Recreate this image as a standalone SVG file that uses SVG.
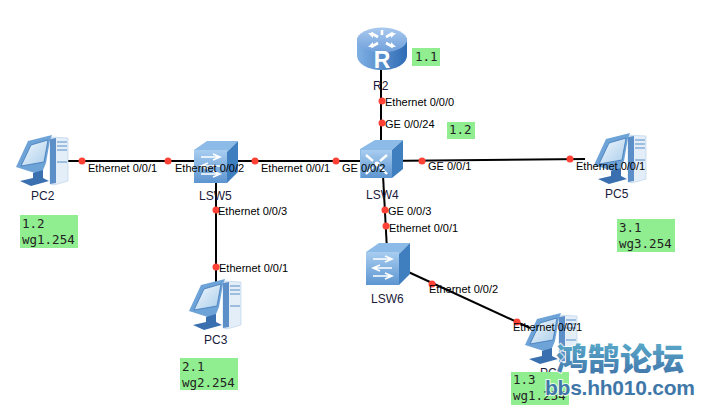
<svg xmlns="http://www.w3.org/2000/svg" width="712" height="415" viewBox="0 0 712 415">
<style>
.l{font:11px "Liberation Sans",Arial,sans-serif;fill:#000}
.n{font:12px "Liberation Sans",Arial,sans-serif;fill:#1a1a3a}
.m{font:12.5px "DejaVu Sans Mono","Liberation Mono",monospace;fill:#222}
.g{fill:#90ee90}
.c{stroke:#000;stroke-width:2;fill:none}
.d{fill:#ff4136}
</style>
<defs>
<linearGradient id="sky" x1="0" y1="0" x2="0" y2="1"><stop offset="0" stop-color="#a8cdf0"/><stop offset="1" stop-color="#5d95d0"/></linearGradient>
<linearGradient id="rt" x1="0" y1="0" x2="0" y2="1"><stop offset="0" stop-color="#a9c9ee"/><stop offset="1" stop-color="#6f9fdb"/></linearGradient>
<linearGradient id="rb" x1="0" y1="0" x2="1" y2="0"><stop offset="0" stop-color="#7fb0e4"/><stop offset="1" stop-color="#2f6cb4"/></linearGradient>
<linearGradient id="scr" x1="0" y1="0" x2="1" y2="1"><stop offset="0" stop-color="#f4f9fe"/><stop offset="1" stop-color="#a9cdea"/></linearGradient>
<linearGradient id="wm" x1="0" y1="0" x2="0" y2="1"><stop offset="0" stop-color="#5fb6d0"/><stop offset="1" stop-color="#3f70a8"/></linearGradient>
<g id="pc">
<path d="M34 2L52 3V46L38 50L34 49Z" fill="#e3eef8" stroke="#b5cfe8" stroke-width=".6"/>
<path d="M34 4L40 3V48L34 49Z" fill="#5c8fc8"/>
<path d="M41 7H51M41 11H51M41 15H51M41 27H51" stroke="#88aed6" stroke-width="1.3"/>
<path d="M0 32L12 6L36 0L34 5L30 28L25 40Z" fill="#6ea3d8"/>
<path d="M5 31L15 10L32 5L28 27Z" fill="url(#scr)" stroke="#3f78b8" stroke-width=".8"/>
<path d="M17 38L27 35L27 43L33 46L15 51L4 46L17 43Z" fill="#3a6fb0"/>
</g>
<g id="sw">
<path d="M0 9L13 0H44L33 11Z" fill="#8cbbe8"/>
<path d="M33 11L44 0V31L33 42Z" fill="#3f7fc0"/>
<rect x="0" y="9" width="33" height="33" fill="url(#sky)"/>
<path d="M7 16H25M19 13L26 16L19 19M26 25H8M14 22L7 25L14 28M7 33H25M19 30L26 33L19 36" stroke="#fff" stroke-width="1.6" fill="none"/>
</g>
</defs>
<rect width="712" height="415" fill="#fff"/>
<g id="connectors" class="c">
<path d="M381 68V162"/>
<path d="M68 161H381"/>
<path d="M381 161L585 159"/>
<path d="M216 180V285"/>
<path d="M383 175L387 250"/>
<path d="M404 270L530 328"/>
</g>
<g id="port-dots" class="d">
<circle cx="82" cy="161" r="3.5"/><circle cx="168" cy="161" r="3.5"/><circle cx="255" cy="161" r="3.5"/><circle cx="336" cy="161" r="3.5"/>
<circle cx="422" cy="161" r="3.5"/><circle cx="570" cy="159" r="3.5"/><circle cx="382" cy="101" r="3.5"/><circle cx="382" cy="123" r="3.5"/>
<circle cx="385" cy="210" r="3.5"/><circle cx="386" cy="226" r="3.5"/><circle cx="432" cy="284" r="3.5"/><circle cx="517" cy="322" r="3.5"/>
<circle cx="216" cy="210" r="3.5"/><circle cx="216" cy="267" r="3.5"/>
</g>
<g id="R2">
<path d="M357 38V55C357 64 368 70 382 70S407 64 407 55V38Z" fill="url(#rb)"/>
<ellipse cx="382" cy="40" rx="25" ry="12.5" fill="url(#rt)"/>
<path d="M371 33L378 37M393 33L386 37M371 47L378 43M393 47L386 43M382 30V35" stroke="#fff" stroke-width="2.6"/>
<path d="M368 33H373V38ZM396 33H391V38ZM368 47H373V42ZM396 47H391V42Z" fill="#fff"/>
<text x="382" y="68" text-anchor="middle" style="font:bold 23px 'Liberation Sans',sans-serif;fill:#fff">R</text>
<text class="n" x="373" y="90">R2</text>
</g>
<g id="LSW4">
<path d="M360 149L375 140H403L392 150V178H360Z" fill="#8cbbe8"/>
<path d="M392 150L403 140V169L392 178Z" fill="#3f7fc0"/>
<rect x="361" y="150" width="31" height="28" fill="url(#sky)"/>
<path d="M366 155L373 161M387 155L380 161M366 174L373 167M387 174L380 167" stroke="#fff" stroke-width="2.4"/>
<circle cx="377" cy="164" r="2.5" fill="#fff"/>
<text class="n" x="366" y="199">LSW4</text>
</g>
<g id="LSW5"><use href="#sw" x="194" y="141"/><text class="n" x="199" y="200">LSW5</text></g>
<g id="LSW6"><use href="#sw" x="366" y="243"/><text class="n" x="371" y="303">LSW6</text></g>
<g id="PC2"><use href="#pc" x="16" y="135"/><text class="n" x="31" y="200">PC2</text></g>
<g id="PC3"><use href="#pc" x="189" y="279"/><text class="n" x="204" y="344">PC3</text></g>
<g id="PC4"><use href="#pc" x="525" y="313"/><text class="n" x="540" y="377">PC4</text></g>
<g id="PC5"><use href="#pc" x="594" y="133"/><text class="n" x="605" y="198">PC5</text></g>
<g id="labels">
<text class="l" x="88" y="172">Ethernet 0/0/1</text><text class="l" x="175" y="172">Ethernet 0/0/2</text>
<text class="l" x="261" y="172">Ethernet 0/0/1</text><text class="l" x="342" y="172">GE 0/0/2</text>
<text class="l" x="428" y="170">GE 0/0/1</text><text class="l" x="576" y="170">Ethernet 0/0/1</text>
<text class="l" x="385" y="106">Ethernet 0/0/0</text><text class="l" x="385" y="128">GE 0/0/24</text>
<text class="l" x="388" y="215">GE 0/0/3</text><text class="l" x="389" y="232">Ethernet 0/0/1</text>
<text class="l" x="429" y="293">Ethernet 0/0/2</text><text class="l" x="513" y="331">Ethernet 0/0/1</text>
<text class="l" x="218" y="215">Ethernet 0/0/3</text><text class="l" x="219" y="272">Ethernet 0/0/1</text>
</g>
<g id="notes">
<rect class="g" x="412" y="48" width="28" height="18"/><text class="m" x="415" y="61">1.1</text>
<rect class="g" x="447" y="122" width="28" height="17"/><text class="m" x="449" y="134">1.2</text>
<rect class="g" x="20" y="215" width="58" height="33"/><text class="m" x="22" y="228">1.2</text><text class="m" x="22" y="244">wg1.254</text>
<rect class="g" x="180" y="358" width="58" height="32"/><text class="m" x="182" y="371">2.1</text><text class="m" x="182" y="387">wg2.254</text>
<rect class="g" x="617" y="219" width="58" height="33"/><text class="m" x="619" y="232">3.1</text><text class="m" x="619" y="248">wg3.254</text>
<rect class="g" x="511" y="372" width="58" height="33"/><text class="m" x="513" y="384">1.3</text><text class="m" x="513" y="400">wg1.254</text>
</g>
<g id="watermark">
<text x="556" y="370" style="font:900 31px 'Noto Sans CJK SC',sans-serif;paint-order:stroke" fill="url(#wm)" stroke="#fff" stroke-opacity=".8" stroke-width="2" textLength="128" lengthAdjust="spacingAndGlyphs">鸿鹄论坛</text>
<text x="545" y="395" style="font:bold 21px 'Liberation Sans',sans-serif;paint-order:stroke" fill="#3f78a8" stroke="#fff" stroke-opacity=".8" stroke-width="2" textLength="150">bbs.hh010.com</text>
</g>
</svg>
